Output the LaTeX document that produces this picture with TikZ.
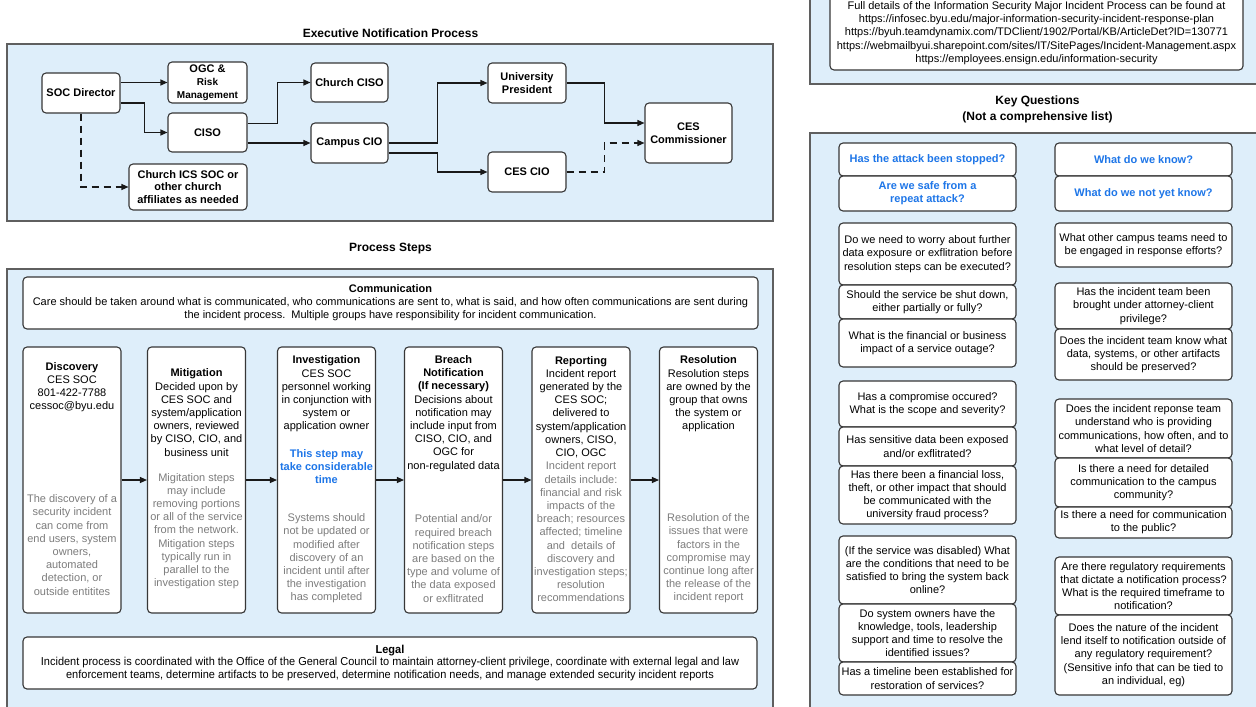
\documentclass[tikz,border=0pt]{standalone}
\usepackage{fontspec}
\setmainfont{Liberation Sans}
\newfontfamily\narrowfont[FakeStretch=0.955]{Liberation Sans}
\usetikzlibrary{arrows.meta,calc}
\definecolor{panelfill}{RGB}{222,238,250}
\definecolor{panelborder}{RGB}{95,95,95}
\definecolor{boxborder}{RGB}{55,55,55}
\definecolor{qblue}{RGB}{30,118,232}
\definecolor{graytext}{RGB}{125,125,125}
\definecolor{linecol}{RGB}{25,25,25}
\begin{document}
\begin{tikzpicture}[x=1pt,y=-1pt,
  panel/.style={draw=panelborder,fill=panelfill,line width=1.4pt},
  box/.style={draw=boxborder,fill=white,line width=1.1pt,rounded corners=4pt,inner sep=0pt,align=center},
  sz/.style 2 args={minimum width=#1pt,minimum height=#2pt},
  exec/.style={box,font=\fontsize{11}{12.8}\selectfont\bfseries},
  title/.style={font=\fontsize{12}{14}\selectfont\bfseries,inner sep=0pt,align=center},
  stxt/.style={align=center,inner sep=0pt,font=\fontsize{11}{13.2}\selectfont},
  gtxt/.style={stxt,text=graytext},
  btxt/.style={stxt,text=qblue,font=\fontsize{11}{13.2}\selectfont\bfseries},
  qbox/.style={box,minimum width=177pt,font=\fontsize{11}{13.2}\selectfont},
  qblue/.style={qbox,text=qblue,font=\fontsize{11}{13.2}\selectfont\bfseries},
  stepbox/.style={box,minimum width=98pt,minimum height=266pt},
  arr/.style={draw=linecol,line width=1.1pt,-{Triangle[length=7pt,width=6pt]}},
  darr/.style={arr,dash pattern=on 7pt off 5pt}
]
\useasboundingbox (0,0) rectangle (1256,707);
\fill[white] (0,0) rectangle (1256,707);

% ---------- Executive Notification Process ----------
\node[title] (t1) at (390.5,33) {Executive Notification Process};
\draw[panel] (7,44) rectangle (773,221);

\node[exec,sz={78}{40}] (soc) at (81,93) {SOC Director};
\node[exec,sz={79}{41}] (ogc) at (207.5,82.5) {OGC \&\\{\fontsize{10}{12}\selectfont Risk}\\{\fontsize{10}{12}\selectfont Management}};
\node[exec,sz={79}{39}] (ciso) at (207.5,132.5) {CISO};
\node[exec,sz={118}{46}] (ics) at (188,187) {Church ICS SOC or\\other church\\affiliates as needed};
\node[exec,sz={77}{39}] (cciso) at (349.5,82.5) {Church CISO};
\node[exec,sz={77}{40}] (ccio) at (349.5,143) {Campus CIO};
\node[exec,sz={78}{40}] (up) at (527,83) {University\\President};
\node[exec,sz={78}{40}] (cescio) at (527,172) {CES CIO};
\node[exec,sz={87}{60}] (comm) at (688.5,133) {CES\\Commissioner};

\draw[arr] (soc.east |- ogc.west) -- (ogc.west);
\draw[arr] ($(soc.east)+(0,10)$) -| ($(ciso.west)+(-23,0)$) -- (ciso.west);
\draw[darr] (soc.south) |- (ics.west);
\draw[arr] ($(ciso.east)+(0,-9)$) -| ($(cciso.west)+(-33,0)$) -- (cciso.west);
\draw[arr] (ciso.east |- ccio.west) -- (ccio.west);
\draw[arr] (ccio.east) -| ($(up.west)+(-50,0)$) -- (up.west);
\draw[arr] ($(ccio.east)+(0,10)$) -| ($(cescio.west)+(-50,0)$) -- (cescio.west);
\draw[arr] (up.east) -| ($(comm.west)+(-40,-10)$) -- ($(comm.west)+(0,-10)$);
\draw[darr] (cescio.east) -| ($(comm.west)+(-40,10)$) -- ($(comm.west)+(0,10)$);

% ---------- Process Steps ----------
\node[title] (t2) at (390.5,249) {Process Steps};
\draw[panel] (7,269) rectangle (773,715);

\node[box,sz={735}{52},font=\fontsize{11}{13}\selectfont] (commbox) at (390.5,303)
 {\textbf{Communication}\\Care should be taken around what is communicated, who communications are sent to, what is said, and how often communications are sent during\\the incident process.\ \ Multiple groups have responsibility for incident communication.};

\node[stepbox] (disc) at (72,480) {};
\node[stepbox] (miti) at (196.5,480) {};
\node[stepbox] (inv) at (326.5,480) {};
\node[stepbox] (breach) at (453.5,480) {};
\node[stepbox] (rep) at (581,480) {};
\node[stepbox] (res) at (708.5,480) {};

\draw[arr] (disc.east) -- (miti.west);
\draw[arr] (miti.east) -- (inv.west);
\draw[arr] (inv.east) -- (breach.west);
\draw[arr] (breach.east) -- (rep.west);
\draw[arr] (rep.east) -- (res.west);

\node[stxt] (disc1) at (72,387) {\textbf{Discovery}\\CES SOC\\801-422-7788\\cessoc@byu.edu};
\node[gtxt] (disc2) at (72,545) {The discovery of a\\security incident\\can come from\\end users, system\\owners,\\automated\\detection, or\\outside entitites};

\node[stxt] (miti1) at (196.5,412.5) {\textbf{Mitigation}\\Decided upon by\\CES SOC and\\system/application\\owners, reviewed\\by CISO, CIO, and\\business unit};
\node[gtxt] (miti2) at (196.5,531) {Migitation steps\\may include\\removing portions\\or all of the service\\from the network.\\Mitigation steps\\typically run in\\parallel to the\\investigation step};

\node[stxt] (inv1) at (326.5,394) {\textbf{Investigation}\\CES SOC\\personnel working\\in conjunction with\\system or\\application owner};
\node[btxt] (inv2) at (326.5,466.5) {This step may\\take considerable\\time};
\node[gtxt] (inv3) at (326.5,558.5) {Systems should\\not be updated or\\modified after\\discovery of an\\incident until after\\the investigation\\has completed};

\node[stxt] (breach1) at (453.5,413.5) {\textbf{Breach}\\\textbf{Notification}\\\textbf{(If necessary)}\\Decisions about\\notification may\\include input from\\CISO, CIO, and\\OGC for\\non-regulated data};
\node[gtxt] (breach2) at (453.5,558.5) {Potential and/or\\required breach\\notification steps\\are based on the\\type and volume of\\the data exposed\\or exflitrated};

\node[stxt] (rep1) at (581,407) {\textbf{Reporting}\\Incident report\\generated by the\\CES SOC;\\delivered to\\system/application\\owners, CISO,\\CIO, OGC};
\node[gtxt] (rep2) at (581,532) {Incident report\\details include:\\financial and risk\\impacts of the\\breach; resources\\affected; timeline\\and\ \ details of\\discovery and\\investigation steps;\\resolution\\recommendations};

\node[stxt] (res1) at (708.5,394) {\textbf{Resolution}\\Resolution steps\\are owned by the\\group that owns\\the system or\\application};
\node[gtxt] (res2) at (708.5,558.5) {Resolution of the\\issues that were\\factors in the\\compromise may\\continue long after\\the release of the\\incident report};

\node[box,sz={734}{52},font=\fontsize{11.5}{12.6}\selectfont\narrowfont] (legal) at (390,663)
 {\textbf{Legal}\\Incident process is coordinated with the Office of the General Council to maintain attorney-client privilege, coordinate with external legal and law\\enforcement teams, determine artifacts to be preserved, determine notification needs, and manage extended security incident reports};

% ---------- Right side ----------
\draw[panel] (810,-5) rectangle (1262,84);
\node[box,sz={413}{74},font=\fontsize{11}{13.2}\selectfont] (info) at (1036.5,33)
 {Full details of the Information Security Major Incident Process can be found at\\https://infosec.byu.edu/major-information-security-incident-response-plan\\https://byuh.teamdynamix.com/TDClient/1902/Portal/KB/ArticleDet?ID=130771\\https://webmailbyui.sharepoint.com/sites/IT/SitePages/Incident-Management.aspx\\https://employees.ensign.edu/information-security};

\node[title] (t3) at (1037.5,101) {Key Questions};
\node[title] (t4) at (1037.5,117) {(Not a comprehensive list)};
\draw[panel] (810,133) rectangle (1262,715);

\node[qblue,minimum height=33pt] (l1) at (927.5,159.5) {Has the attack been stopped?};
\node[qblue,minimum height=35pt] (l2) at (927.5,193.5) {Are we safe from a\\repeat attack?};
\node[qbox,minimum height=62pt] (l3) at (927.5,254) {Do we need to worry about further\\data exposure or exflitration before\\resolution steps can be executed?};
\node[qbox,minimum height=34pt] (l4) at (927.5,302) {Should the service be shut down,\\either partially or fully?};
\node[qbox,minimum height=48pt] (l5) at (927.5,343) {What is the financial or business\\impact of a service outage?};
\node[qbox,minimum height=46pt] (l6) at (927.5,404) {Has a compromise occured?\\What is the scope and severity?};
\node[qbox,minimum height=39pt] (l7) at (927.5,446.5) {Has sensitive data been exposed\\and/or exflitrated?};
\node[qbox,minimum height=58pt] (l8) at (927.5,495) {Has there been a financial loss,\\theft, or other impact that should\\be communicated with the\\university fraud process?};
\node[qbox,minimum height=68pt] (l9) at (927.5,570) {(If the service was disabled) What\\are the conditions that need to be\\satisfied to bring the system back\\online?};
\node[qbox,minimum height=58pt] (l10) at (927.5,633) {Do system owners have the\\knowledge, tools, leadership\\support and time to resolve the\\identified issues?};
\node[qbox,minimum height=33pt] (l11) at (927.5,678.5) {Has a timeline been established for\\restoration of services?};

\node[qblue,minimum height=33pt] (r1) at (1143.5,159.5) {What do we know?};
\node[qblue,minimum height=35pt] (r2) at (1143.5,193.5) {What do we not yet know?};
\node[qbox,minimum height=44pt] (r3) at (1143.5,245) {What other campus teams need to\\be engaged in response efforts?};
\node[qbox,minimum height=46pt] (r4) at (1143.5,306) {Has the incident team been\\brought under attorney-client\\privilege?};
\node[qbox,minimum height=51pt] (r5) at (1143.5,354.5) {Does the incident team know what\\data, systems, or other artifacts\\should be preserved?};
\node[qbox,minimum height=59pt] (r6) at (1143.5,428.5) {Does the incident reponse team\\understand who is providing\\communications, how often, and to\\what level of detail?};
\node[qbox,minimum height=49pt] (r7) at (1143.5,482.5) {Is there a need for detailed\\communication to the campus\\community?};
\node[qbox,minimum height=31pt] (r8) at (1143.5,522.5) {Is there a need for communication\\to the public?};
\node[qbox,minimum height=58pt] (r9) at (1143.5,586) {Are there regulatory requirements\\that dictate a notification process?\\What is the required timeframe to\\notification?};
\node[qbox,minimum height=80pt] (r10) at (1143.5,655) {Does the nature of the incident\\lend itself to notification outside of\\any regulatory requirement?\\(Sensitive info that can be tied to\\an individual, eg)};
\end{tikzpicture}
\end{document}
